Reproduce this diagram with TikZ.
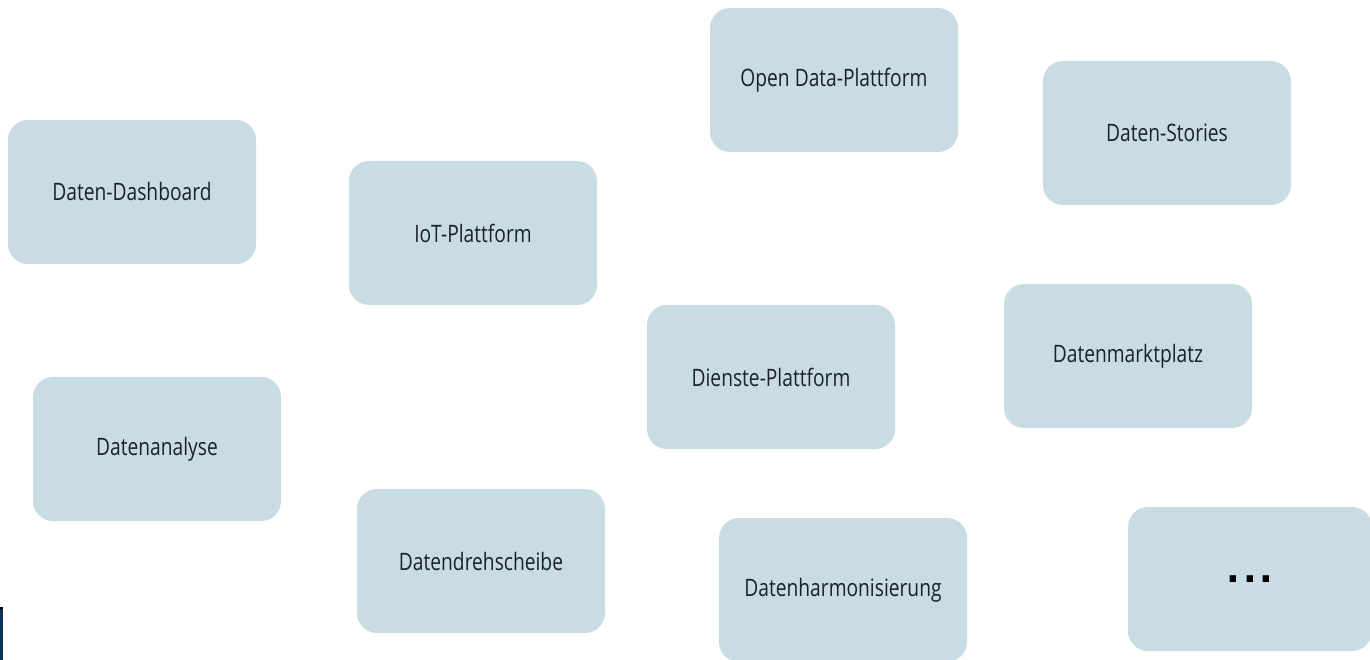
\documentclass[tikz,border=0pt]{standalone}
\usepackage{fontspec}
\newfontfamily\boxfont{Open Sans}[FakeStretch=0.8]
\newfontfamily\dotfont{DejaVu Sans}
\definecolor{boxfill}{HTML}{C9DCE3}
\definecolor{boxtext}{HTML}{1C1F2E}
\definecolor{navy}{HTML}{0E3253}
\begin{document}
\begin{tikzpicture}[x=1pt,y=-1pt,
  card/.style={rectangle, rounded corners=20pt, fill=boxfill, draw=none,
    minimum width=248pt, minimum height=144pt, inner sep=0pt,
    font=\boxfont\fontsize{24}{28}\selectfont, text=boxtext}]
\useasboundingbox (0,0) rectangle (1370,660);
\fill[white] (0,0) rectangle (1370,660);
\node[card] (dash) at (132,192) {Daten-Dashboard};
\node[card] (iot) at (473,233) {IoT-Plattform};
\node[card] (open) at (834,80) {Open Data-Plattform};
\node[card] (stories) at (1167,133) {Daten-Stories};
\node[card] (dienste) at (771,377) {Dienste-Plattform};
\node[card] (markt) at (1128,356) {Datenmarktplatz};
\node[card] (analyse) at (157,449) {Datenanalyse};
\node[card] (dreh) at (481,561) {Datendrehscheibe};
\node[card] (harm) at (843,590) {Datenharmonisierung};
\node[card, minimum width=244pt, text=black, font=\dotfont\bfseries\fontsize{36}{36}\selectfont] (more) at (1250,579) {.\kern3pt.\kern3pt.};
\fill[navy] (0,607) rectangle (3,660);
\fill[black] (0,607) rectangle (3,609);
\end{tikzpicture}
\end{document}
